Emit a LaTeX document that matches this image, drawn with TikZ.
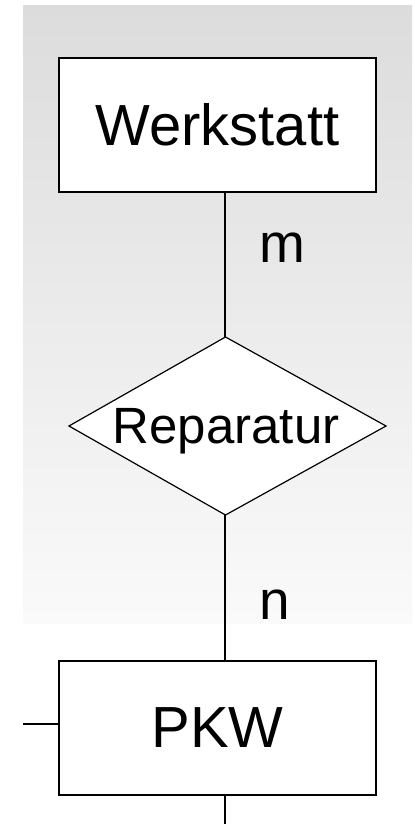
\documentclass[tikz,border=0pt]{standalone}
\usepackage{fontspec}
\setmainfont{Liberation Sans}
\begin{document}
\begin{tikzpicture}[x=1pt,y=-1pt,
  entity/.style={draw=black,line width=1.4pt,fill=white,rectangle,minimum width=317pt,minimum height=134pt,inner sep=0pt,font=\fontsize{58}{60}\selectfont},
  relationlabel/.style={inner sep=0pt,font=\fontsize{51}{53}\selectfont,text depth=0pt},
  relshape/.style={draw=black,line width=1.2pt,fill=white},
  card/.style={inner sep=0pt,font=\fontsize{55}{57}\selectfont},
  conn/.style={draw=black,line width=1.3pt}]
\useasboundingbox (0,0) rectangle (412,824);
\fill[white] (0,0) rectangle (412,824);
\shade[top color={rgb,255:red,220;green,220;blue,220},bottom color={rgb,255:red,250;green,250;blue,250}] (23,6) rectangle (412,623);
\node[entity] (w) at (217.5,125) {Werkstatt};
\node[entity] (p) at (217.5,728) {PKW};
\coordinate (rt) at (225.5,337);
\coordinate (rb) at (225.5,515);
\coordinate (rl) at (69,426);
\coordinate (rr) at (386,426);
\draw[relshape] (rt) -- (rr) -- (rb) -- (rl) -- cycle;
\node[relationlabel] (r) at (226,426) {Reparatur};
\coordinate (pl) at (23,724);
\coordinate (pb) at (225,824);
\draw[conn] (rt -| pb) -- (w.south -| pb);
\draw[conn] (rb -| pb) -- (p.north -| pb);
\draw[conn] (pl) -- (pl -| p.west);
\draw[conn] (pb) -- (p.south -| pb);
\node[card,anchor=base] (m) at (282,262) {m};
\node[card,anchor=base] (n) at (275,619) {n};
\end{tikzpicture}
\end{document}
